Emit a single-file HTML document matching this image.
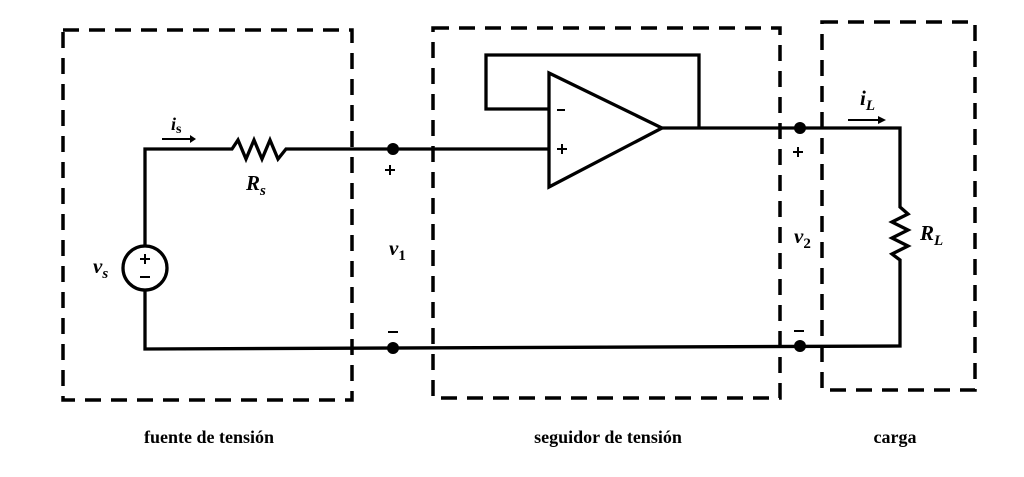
<!DOCTYPE html>
<html><head><style>body{margin:0;background:#fff}svg{display:block}</style></head><body>
<svg width="1024" height="477" viewBox="0 0 1024 477" xmlns="http://www.w3.org/2000/svg" font-family="Liberation Serif, serif">
<g fill="none" stroke="#000" stroke-width="3.5" stroke-dasharray="16,10">
<rect x="63" y="30" width="289" height="370"/>
<rect x="433" y="28" width="347" height="370"/>
<rect x="822" y="22" width="153" height="368"/>
</g>
<g fill="none" stroke="#000" stroke-width="3.3">
<polyline points="145,246 145,149 232,149 238,140 246,159 254,140 262,159 270,140 278,159 286,149 549,149"/>
<polyline points="145,290 145,349 900,346 900,260 892,254 908,246 892,238 908,230 892,222 908,214 900,207 900,128 662,128"/>
<circle cx="145" cy="268" r="22"/>
<polygon points="549,73 662,128 549,187"/>
<polyline points="549,109 486,109 486,55 699,55 699,128"/>
</g>
<g stroke="#000" stroke-width="2">
<line x1="140" y1="259" x2="150" y2="259"/><line x1="145" y1="254" x2="145" y2="264"/>
<line x1="140" y1="277" x2="150" y2="277"/>
<line x1="162" y1="139" x2="190" y2="139"/>
<line x1="848" y1="120" x2="878" y2="120"/>
<line x1="557" y1="110" x2="565" y2="110"/>
<line x1="557" y1="149" x2="567" y2="149"/><line x1="562" y1="144" x2="562" y2="154"/>
<line x1="385" y1="170" x2="395" y2="170"/><line x1="390" y1="165" x2="390" y2="175"/>
<line x1="388" y1="332" x2="398" y2="332"/>
<line x1="793" y1="152" x2="803" y2="152"/><line x1="798" y1="147" x2="798" y2="157"/>
<line x1="794" y1="331" x2="804" y2="331"/>
</g>
<polygon points="190,135 196,139 190,143" fill="#000"/>
<polygon points="878,116 886,120 878,124" fill="#000"/>
<g fill="#000">
<circle cx="393" cy="149" r="6"/><circle cx="393" cy="348" r="6"/>
<circle cx="800" cy="128" r="6"/><circle cx="800" cy="346" r="6"/>
</g>
<g font-style="italic" font-weight="bold" font-size="21">
<text x="171" y="130" font-size="18">i<tspan font-size="14" font-style="normal" dy="3">s</tspan></text>
<text x="246" y="190">R<tspan font-size="15" dy="5">s</tspan></text>
<text x="93" y="273">v<tspan font-size="15" dy="5">s</tspan></text>
<text x="389" y="255">v<tspan font-size="15" font-style="normal" dy="5">1</tspan></text>
<text x="794" y="243">v<tspan font-size="15" font-style="normal" dy="5">2</tspan></text>
<text x="860" y="105">i<tspan font-size="15" dy="5">L</tspan></text>
<text x="920" y="240">R<tspan font-size="15" dy="5">L</tspan></text>
</g>
<g font-size="18" font-weight="bold" text-anchor="middle">
<text x="209" y="443">fuente de tensión</text>
<text x="608" y="443">seguidor de tensión</text>
<text x="895" y="443">carga</text>
</g>
</svg>
</body></html>
